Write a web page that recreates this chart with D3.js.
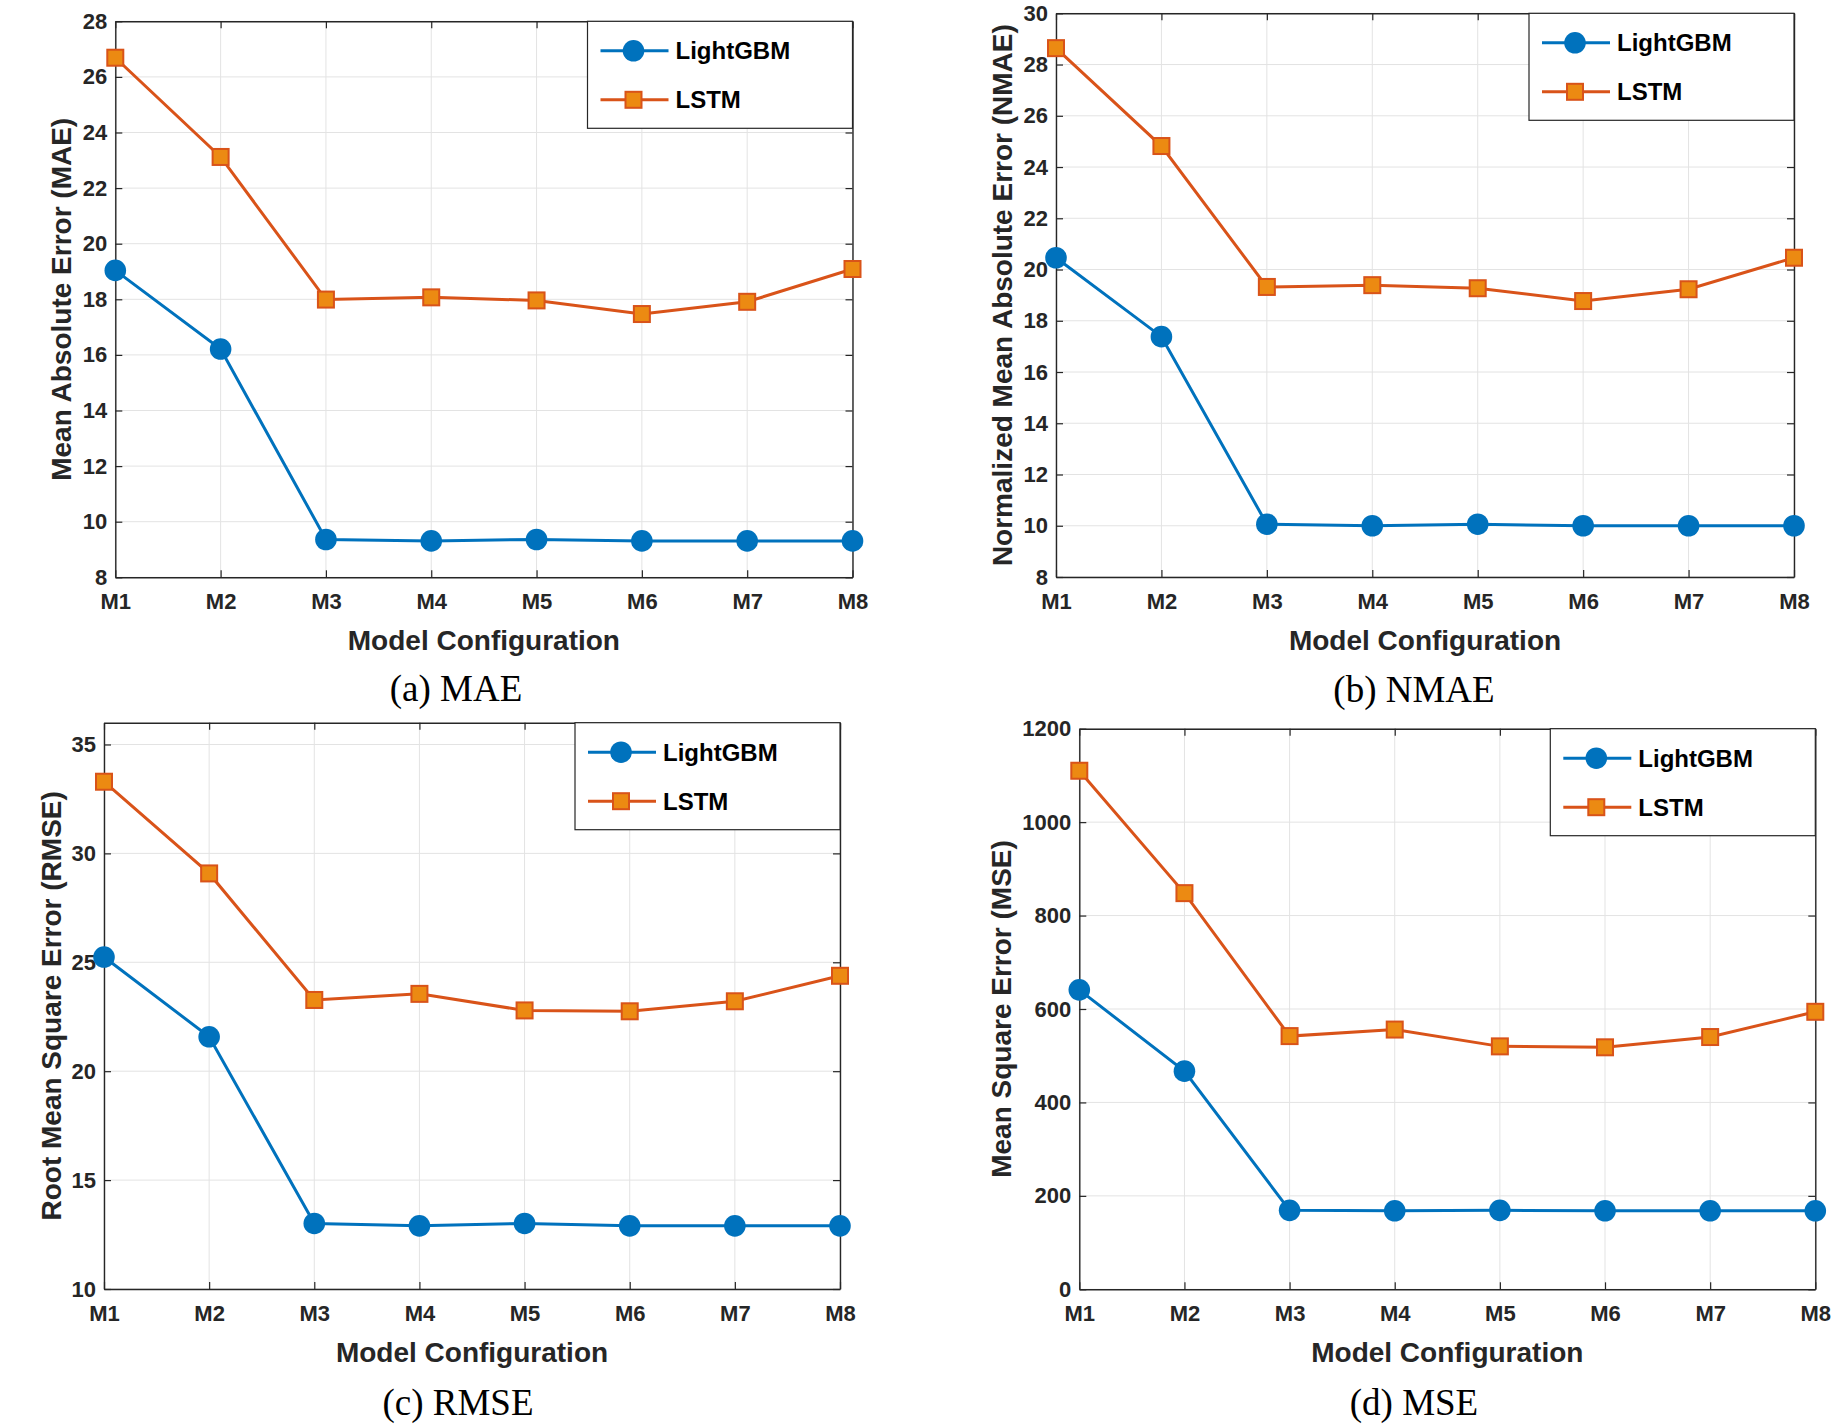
<!DOCTYPE html>
<html>
<head>
<meta charset="utf-8">
<script src="https://cdn.jsdelivr.net/npm/d3@7/dist/d3.min.js"></script>
<style>
  html, body { margin: 0; padding: 0; background: #ffffff; }
  svg { display: block; }
</style>
</head>
<body>
<svg id="chart" width="1831" height="1428"></svg>
<script>
// ---------------- DATA ----------------
const categories = ["M1", "M2", "M3", "M4", "M5", "M6", "M7", "M8"];
const seriesNames = ["LightGBM", "LSTM"];

const maeLightGBM = [19.04, 16.21, 9.36, 9.31, 9.36, 9.31, 9.31, 9.31];
const maeLSTM     = [26.69, 23.12, 17.99, 18.07, 17.96, 17.47, 17.91, 19.09];

const nmaeLightGBM = [20.46, 17.38, 10.06, 10.00, 10.06, 10.00, 10.00, 10.00];
const nmaeLSTM     = [28.64, 24.82, 19.32, 19.39, 19.27, 18.77, 19.23, 20.46];

const rmseLightGBM = [25.24, 21.58, 13.01, 12.90, 13.01, 12.90, 12.90, 12.90];
const rmseLSTM     = [33.29, 29.08, 23.27, 23.55, 22.79, 22.75, 23.21, 24.38];

const mseLightGBM = [641, 467, 169, 168, 169, 168, 168, 168];
const mseLSTM     = [1110, 848, 542, 556, 520, 518, 540, 594];

const ticksMAE  = [8, 10, 12, 14, 16, 18, 20, 22, 24, 26, 28];
const ticksNMAE = [8, 10, 12, 14, 16, 18, 20, 22, 24, 26, 28, 30];
const ticksRMSE = [10, 15, 20, 25, 30, 35];
const ticksMSE  = [0, 200, 400, 600, 800, 1000, 1200];

const yTitles = ["Mean Absolute Error (MAE)", "Normalized Mean Absolute Error (NMAE)",
                 "Root Mean Square Error (RMSE)", "Mean Square Error (MSE)"];
const xTitle = "Model Configuration";
const captions = ["(a) MAE", "(b) NMAE", "(c) RMSE", "(d) MSE"];

// ---------------- LAYOUT / STYLE ----------------
const panels = [
  { lgb: maeLightGBM,  lstm: maeLSTM,  ticks: ticksMAE,  domain: [8, 28],  box: [115.3, 852.5, 21.3, 577.3], capX: 456,  capY: 701 },
  { lgb: nmaeLightGBM, lstm: nmaeLSTM, ticks: ticksNMAE, domain: [8, 30],  box: [1056, 1794, 13.3, 577],    capX: 1414, capY: 702 },
  { lgb: rmseLightGBM, lstm: rmseLSTM, ticks: ticksRMSE, domain: [10, 36], box: [104, 840, 722.7, 1289],    capX: 458,  capY: 1415 },
  { lgb: mseLightGBM,  lstm: mseLSTM,  ticks: ticksMSE,  domain: [0, 1200],box: [1079.3, 1815.3, 728.7, 1289.3], capX: 1414, capY: 1415 }
];

const BLUE = "#0072BD";
const ORANGE = "#D95319";
const SQFILL = "#EC8A12";
const AXIS = "#262626";
const GRID = "#e3e3e3";
const SANS = "'Liberation Sans', Arial, Helvetica, sans-serif";
const SERIF = "'Liberation Serif', 'Times New Roman', serif";
const TICKLEN = 7;

const svg = d3.select("#chart");

panels.forEach((p, i) => {
  const [x0, x1, y0, y1] = p.box;
  const g = svg.append("g");

  const x = d3.scalePoint().domain(categories).range([x0, x1]).padding(0);
  const y = d3.scaleLinear().domain(p.domain).range([y1, y0]);

  // grid
  const grid = g.append("g");
  grid.selectAll("line.gx").data(categories).join("line")
    .attr("x1", d => x(d)).attr("x2", d => x(d))
    .attr("y1", y0).attr("y2", y1)
    .attr("stroke", GRID).attr("stroke-width", 1);
  grid.selectAll("line.gy").data(p.ticks).join("line")
    .attr("x1", x0).attr("x2", x1)
    .attr("y1", d => y(d)).attr("y2", d => y(d))
    .attr("stroke", GRID).attr("stroke-width", 1);

  // axes using d3 axis generators (inward ticks)
  const fmt = d => d;
  const bottom = g.append("g").attr("transform", `translate(0,${y1})`)
    .call(d3.axisBottom(x).tickSizeInner(-TICKLEN).tickSizeOuter(0).tickPadding(TICKLEN + 9));
  const top = g.append("g").attr("transform", `translate(0,${y0})`)
    .call(d3.axisTop(x).tickSizeInner(-TICKLEN).tickSizeOuter(0).tickFormat(""));
  const left = g.append("g").attr("transform", `translate(${x0},0)`)
    .call(d3.axisLeft(y).tickValues(p.ticks).tickFormat(fmt).tickSizeInner(-TICKLEN).tickSizeOuter(0).tickPadding(TICKLEN + 9));
  const right = g.append("g").attr("transform", `translate(${x1},0)`)
    .call(d3.axisRight(y).tickValues(p.ticks).tickFormat("").tickSizeInner(-TICKLEN).tickSizeOuter(0));

  [bottom, top, left, right].forEach(a => {
    a.select(".domain").attr("stroke", AXIS).attr("stroke-width", 1.4);
    a.selectAll(".tick line").attr("stroke", AXIS).attr("stroke-width", 1.2);
    a.selectAll(".tick text")
      .attr("fill", AXIS)
      .style("font-family", SANS).style("font-weight", "bold").style("font-size", "22px");
  });
  bottom.selectAll(".tick text").attr("dy", "0.71em").attr("y", 16);
  left.selectAll(".tick text").attr("x", -8).attr("dy", "0.32em");

  // y-axis title position from tick label widths
  let maxW = 0;
  left.selectAll(".tick text").each(function () { maxW = Math.max(maxW, this.getBBox().width); });
  const ytx = x0 - 8 - maxW - 21;
  g.append("text")
    .attr("transform", `translate(${ytx},${(y0 + y1) / 2}) rotate(-90)`)
    .attr("text-anchor", "middle").attr("dy", "0.36em")
    .attr("fill", AXIS)
    .style("font-family", SANS).style("font-weight", "bold").style("font-size", "28px")
    .text(yTitles[i]);

  // x-axis title
  g.append("text")
    .attr("x", (x0 + x1) / 2).attr("y", y1 + 73)
    .attr("text-anchor", "middle").attr("fill", AXIS)
    .style("font-family", SANS).style("font-weight", "bold").style("font-size", "28px")
    .text(xTitle);

  // caption
  g.append("text")
    .attr("x", p.capX).attr("y", p.capY)
    .attr("text-anchor", "middle").attr("fill", "#000")
    .style("font-family", SERIF).style("font-size", "37px")
    .text(captions[i]);

  // series lines
  const line = d3.line().x((d, k) => x(categories[k])).y(d => y(d));
  g.append("path").datum(p.lgb).attr("d", line)
    .attr("fill", "none").attr("stroke", BLUE).attr("stroke-width", 3);
  g.append("path").datum(p.lstm).attr("d", line)
    .attr("fill", "none").attr("stroke", ORANGE).attr("stroke-width", 3);

  // markers
  g.append("g").selectAll("circle").data(p.lgb).join("circle")
    .attr("cx", (d, k) => x(categories[k])).attr("cy", d => y(d))
    .attr("r", 10.8).attr("fill", BLUE);
  const S = 16;
  g.append("g").selectAll("rect").data(p.lstm).join("rect")
    .attr("x", (d, k) => x(categories[k]) - S / 2).attr("y", d => y(d) - S / 2)
    .attr("width", S).attr("height", S)
    .attr("fill", SQFILL).attr("stroke", ORANGE).attr("stroke-width", 2);

  // legend
  const LW = 265, LH = 107;
  const lg = g.append("g").attr("transform", `translate(${x1 - LW},${y0})`);
  lg.append("rect").attr("width", LW).attr("height", LH)
    .attr("fill", "#fff").attr("stroke", AXIS).attr("stroke-width", 1.2);
  const rows = [29.5, 78.5];
  seriesNames.forEach((name, r) => {
    const ry = rows[r];
    const col = r === 0 ? BLUE : ORANGE;
    lg.append("line").attr("x1", 13).attr("x2", 81).attr("y1", ry).attr("y2", ry)
      .attr("stroke", col).attr("stroke-width", 3);
    if (r === 0) {
      lg.append("circle").attr("cx", 46).attr("cy", ry).attr("r", 10.8).attr("fill", BLUE);
    } else {
      lg.append("rect").attr("x", 46 - S / 2).attr("y", ry - S / 2).attr("width", S).attr("height", S)
        .attr("fill", SQFILL).attr("stroke", ORANGE).attr("stroke-width", 2);
    }
    lg.append("text").attr("x", 88).attr("y", ry).attr("dy", "0.36em")
      .attr("fill", "#000")
      .style("font-family", SANS).style("font-weight", "bold").style("font-size", "24px")
      .text(name);
  });
});
</script>
</body>
</html>
